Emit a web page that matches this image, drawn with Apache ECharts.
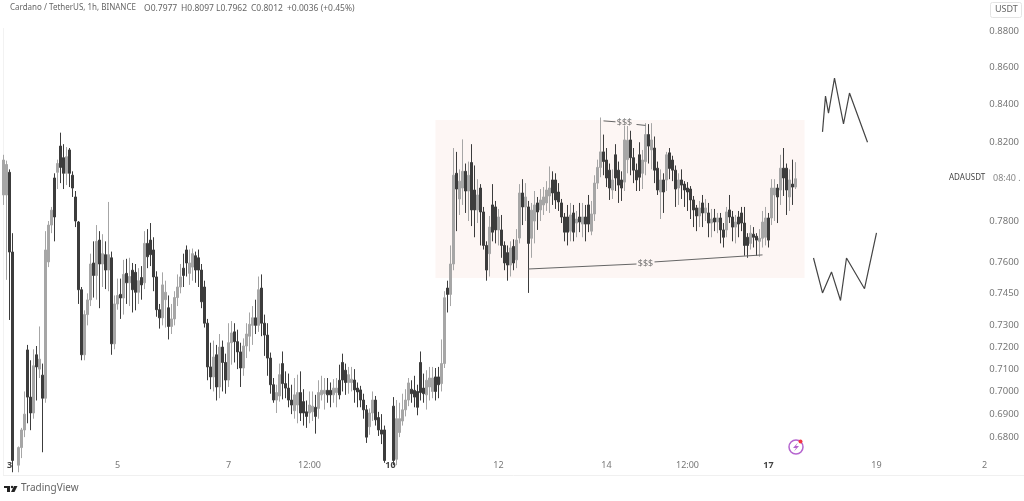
<!DOCTYPE html>
<html>
<head>
<meta charset="utf-8">
<title>ADAUSDT</title>
<style>
    html, body { margin: 0; padding: 0; background: #fff; }
    #chart { width: 1024px; height: 501px; }
</style>
<script src="https://cdn.jsdelivr.net/npm/echarts@6/dist/echarts.min.js"></script>
</head>
<body>
<div id="chart"></div>
<script>
// open, close, low, high per bar left to right
var candles = [
[.7930,.8108,.7880,.8135],[.7930,.8085,.7514,.8105],[.8045,.7648,.7325,.8060],[.7648,.6700,.6650,.7740],[.6700,.6680,.6640,.6710],
[.6680,.6755,.6650,.6760],[.6755,.6831,.6710,.6840],[.6831,.6900,.6800,.7000],[.7187,.6975,.6860,.7210],[.6975,.6905,.6830,.7140],
[.6905,.7115,.6880,.7190],[.7165,.7110,.6960,.7205],[.7100,.7145,.7060,.7295],[.7073,.6970,.6735,.7125],[.6970,.7658,.6950,.7750],
[.7600,.7780,.7575,.7800],[.7780,.7854,.7740,.7870],[.8016,.7820,.7700,.8040],[.8045,.8090,.7960,.8110],[.8180,.8070,.7990,.8250],
[.8120,.8040,.7960,.8190],[.8040,.8125,.7980,.8175],[.8160,.8040,.7970,.8170],[.8030,.7965,.7920,.8050],[.7920,.7800,.7770,.7950],
[.7795,.7467,.7400,.7800],[.7467,.7165,.7140,.7480],[.7165,.7350,.7140,.7370],[.7350,.7419,.7300,.7450],[.7419,.7590,.7390,.7640],
[.7595,.7535,.7430,.7700],[.7535,.7700,.7420,.7780],[.7706,.7590,.7380,.7750],[.7590,.7640,.7480,.7735],[.7635,.7561,.7470,.7700],
[.7561,.7635,.7460,.7895],[.7620,.7215,.7165,.7650],[.7215,.7400,.7190,.7440],[.7400,.7440,.7373,.7520],[.7445,.7428,.7330,.7520],
[.7428,.7540,.7350,.7610],[.7545,.7500,.7400,.7615],[.7500,.7530,.7390,.7620],[.7560,.7467,.7360,.7595],[.7550,.7455,.7370,.7590],
[.7455,.7510,.7400,.7570],[.7525,.7490,.7420,.7580],[.7500,.7690,.7470,.7750],[.7690,.7625,.7570,.7760],[.7706,.7635,.7580,.7790],
[.7658,.7528,.7460,.7720],[.7528,.7373,.7340,.7555],[.7373,.7335,.7285,.7400],[.7335,.7490,.7300,.7550],[.7420,.7455,.7290,.7510],
[.7382,.7295,.7235,.7440],[.7295,.7330,.7260,.7400],[.7330,.7430,.7300,.7460],[.7430,.7480,.7390,.7540],[.7480,.7528,.7450,.7590],
[.7570,.7535,.7480,.7640],[.7658,.7595,.7530,.7680],[.7545,.7595,.7490,.7660],[.7575,.7640,.7510,.7665],[.7630,.7561,.7500,.7650],
[.7620,.7561,.7480,.7660],[.7561,.7410,.7380,.7590],[.7480,.7310,.7290,.7510],[.7310,.7110,.7050,.7330],[.7110,.7065,.7010,.7220],
[.7065,.7155,.7000,.7230],[.7165,.7020,.6960,.7210],[.7020,.7200,.6970,.7260],[.7200,.7130,.7000,.7230],[.7130,.7051,.6990,.7170],
[.7051,.7220,.7020,.7310],[.7220,.7265,.7120,.7320],[.7270,.7225,.7130,.7310],[.7225,.7178,.7100,.7280],[.7178,.7105,.7020,.7220],
[.7105,.7205,.7070,.7240],[.7205,.7260,.7150,.7310],[.7250,.7305,.7180,.7360],[.7300,.7335,.7210,.7390],[.7335,.7300,.7260,.7420],
[.7300,.7467,.7270,.7530],[.7475,.7310,.7250,.7540],[.7310,.7255,.7160,.7350],[.7255,.7150,.7070,.7310],[.7150,.7030,.6990,.7175],
[.7030,.6962,.6950,.7060],[.6962,.6995,.6905,.7030],[.6980,.7075,.6955,.7125],[.7125,.7035,.6965,.7180],[.7035,.7015,.6970,.7090],
[.7015,.6962,.6930,.7080],[.6962,.6940,.6900,.7030],[.6915,.6985,.6880,.7060],[.6940,.6995,.6860,.7075],[.6995,.6905,.6870,.7090],
[.6955,.6905,.6850,.7010],[.6910,.6890,.6840,.6960],[.6905,.6940,.6860,.7000],[.6910,.6935,.6870,.7000],[.6930,.6890,.6815,.6985],
[.6925,.6995,.6880,.7050],[.6985,.7005,.6960,.7070],[.6990,.7005,.6920,.7060],[.7005,.6985,.6950,.7060],[.7005,.6985,.6930,.7040],
[.6985,.7015,.6950,.7055],[.6995,.7015,.6930,.7060],[.7050,.6985,.6965,.7120],[.7130,.7051,.7000,.7170],[.7095,.7040,.6985,.7125],
[.7040,.7075,.6990,.7110],[.7040,.7055,.7000,.7110],[.7051,.7007,.6950,.7100],[.7015,.6998,.6930,.7040],[.7007,.6962,.6930,.7025],
[.6962,.6919,.6880,.6990],[.6919,.6800,.6775,.6940],[.6845,.6905,.6810,.6925],[.6905,.6962,.6870,.7000],[.6962,.6875,.6850,.6980],
[.6885,.6831,.6805,.6910],[.6831,.6813,.6770,.6900],[.6831,.6700,.6690,.6850],[.6700,.6690,.6660,.6715],[.6700,.6695,.6680,.6715],
[.6935,.6700,.6680,.6975],[.6705,.6880,.6680,.6962],[.6820,.6880,.6800,.6950],[.6870,.6919,.6850,.6990],[.6919,.6962,.6890,.7010],
[.6962,.7038,.6935,.7060],[.7010,.6990,.6950,.7050],[.7005,.6975,.6930,.7070],[.7000,.6930,.6895,.7030],[.7130,.6995,.6960,.7180],
[.7015,.6990,.6950,.7080],[.6985,.7050,.6920,.7095],[.7020,.7060,.6960,.7110],[.7000,.7060,.6970,.7110],[.7065,.7000,.6960,.7105],
[.7065,.7030,.6970,.7110],[.7035,.7125,.7000,.7235],[.7125,.7429,.7105,.7460],[.7475,.7445,.7360,.7510],[.7445,.7590,.7390,.7680],
[.7590,.8030,.7560,.8170],[.8040,.7960,.7750,.8150],[.7910,.8000,.7830,.8060],[.7965,.8050,.7880,.8215],[.8050,.7950,.7840,.8090],
[.7950,.8030,.7800,.8100],[.8095,.7855,.7775,.8190],[.7955,.7855,.7720,.8080],[.7855,.7930,.7790,.8010],[.7965,.7845,.7680,.7985],
[.7845,.7680,.7660,.7870],[.7680,.7561,.7510,.7700],[.7640,.7770,.7530,.7825],[.7880,.7745,.7700,.7985],[.7870,.7756,.7690,.7900],
[.7756,.7820,.7680,.7860],[.7756,.7680,.7620,.7830],[.7680,.7595,.7560,.7700],[.7645,.7585,.7510,.7680],[.7585,.7668,.7530,.7700],
[.7675,.7595,.7560,.7710],[.7610,.7706,.7570,.7760],[.7716,.7940,.7690,.7985],[.7940,.7870,.7780,.8010],[.7870,.7920,.7800,.7990],
[.7870,.7690,.7452,.7900],[.7715,.7854,.7620,.7890],[.7800,.7880,.7690,.7950],[.7890,.7845,.7756,.7920],[.7855,.7905,.7800,.7960],
[.7880,.7920,.7830,.7970],[.7890,.7955,.7850,.8000],[.7925,.7965,.7840,.8075],[.8006,.7940,.7880,.8050],[.8006,.7905,.7860,.8040],
[.7945,.7895,.7850,.7990],[.7890,.7820,.7790,.7910],[.7820,.7745,.7700,.7840],[.7820,.7745,.7680,.7880],[.7750,.7830,.7700,.7890],
[.7840,.7745,.7700,.7880],[.7790,.7810,.7720,.7850],[.7820,.7795,.7745,.7890],[.7785,.7820,.7720,.7890],[.7820,.7785,.7700,.7880],
[.7880,.7785,.7745,.7930],[.7750,.7835,.7730,.7900],[.7835,.7990,.7800,.8030],[.7990,.8070,.7960,.8110],[.8070,.8150,.8020,.8330],
[.8150,.8100,.8030,.8240],[.8108,.8016,.7970,.8170],[.8056,.7965,.7905,.8090],[.7955,.8006,.7910,.8060],[.8135,.8016,.7950,.8190],
[.8056,.7980,.7890,.8100],[.8006,.7965,.7900,.8050],[.7995,.8212,.7950,.8285],[.8110,.8210,.8040,.8285],[.8212,.8120,.8030,.8260],
[.8120,.8056,.7990,.8170],[.8056,.8006,.7950,.8090],[.8135,.8020,.7950,.8200],[.8040,.8108,.7960,.8160],[.8100,.8240,.8030,.8300],
[.8240,.8180,.8090,.8295],[.8160,.8212,.8060,.8300],[.8170,.8056,.7990,.8230],[.8066,.7955,.7930,.8100],[.7945,.8006,.7810,.8060],
[.8006,.7945,.7840,.8040],[.8006,.8135,.7950,.8150],[.8145,.8065,.8010,.8170],[.8108,.8056,.8000,.8130],[.8056,.7960,.7870,.8080],
[.7965,.8006,.7880,.8040],[.8006,.7980,.7910,.8060],[.7985,.7955,.7870,.8000],[.7965,.7945,.7850,.7995],[.7960,.7905,.7810,.7975],
[.7905,.7855,.7770,.7925],[.7865,.7825,.7750,.7880],[.7825,.7865,.7770,.7900],[.7890,.7840,.7770,.7930],[.7840,.7865,.7800,.7910],
[.7840,.7790,.7720,.7890],[.7790,.7810,.7720,.7860],[.7815,.7795,.7750,.7860],[.7795,.7815,.7740,.7840],[.7815,.7756,.7690,.7840],
[.7756,.7720,.7670,.7790],[.7756,.7845,.7720,.7870],[.7855,.7820,.7790,.7930],[.7820,.7770,.7700,.7850],[.7770,.7795,.7690,.7830],
[.7820,.7785,.7720,.7850],[.7840,.7790,.7750,.7870],[.7790,.7680,.7630,.7870],[.7720,.7680,.7620,.7740],[.7690,.7740,.7660,.7780],
[.7735,.7720,.7670,.7770],[.7725,.7706,.7630,.7740],[.7700,.7715,.7625,.7760],[.7715,.7795,.7670,.7850],[.7720,.7815,.7680,.7870],
[.7815,.7706,.7670,.7840],[.7815,.7965,.7780,.8010],[.7930,.7965,.7800,.8010],[.7965,.7920,.7790,.7985],[.7955,.8066,.7880,.8135],
[.8066,.8016,.7925,.8170],[.8066,.7955,.7830,.8090],[.7920,.8006,.7850,.8060],[.7985,.7970,.7880,.8110],[.7970,.8012,.7960,.8097]
];

// price scale
var priceTicks = [0.88, 0.86, 0.84, 0.82, 0.78, 0.76, 0.745, 0.73, 0.72, 0.71, 0.70, 0.69, 0.68];

// time scale, bar index of each date label
var timeLabels = ['3', '5', '7', '12:00', '10', '12', '14', '12:00', '17', '19', '2'];
var timeLabelBars = [2, 38, 75, 102, 129, 165, 201, 228, 255, 291, 327];
var boldLabels = ['3', '10', '17'];
var barCount = 340;

// header texts
var symbolText = 'Cardano / TetherUS, 1h, BINANCE';
var ohlcTexts = ['O0.7977', 'H0.8097', 'L0.7962', 'C0.8012', '+0.0036 (+0.45%)'];

// shaded range
var rangeBars = [144, 267];
var rangePrices = [0.8317, 0.7523];

// $$$ liquidity lines
var topLiqBars = [200, 204, null, 211, 214];
var topLiqPrices = [0.8312, 0.8307, null, 0.8293, 0.8288];
var lowLiqBars = [175, 211, null, 217, 253];
var lowLiqPrices = [0.7566, 0.7590, null, 0.7600, 0.7634];
var liqLabelBars = [207, 214];
var liqLabelPrices = [0.8305, 0.7595];

// hand drawn zigzags on the right
var upperPathBars = [273, 274, 275, 277, 280, 282, 288];
var upperPathPrices = [0.8254, 0.8444, 0.8353, 0.8541, 0.8296, 0.8460, 0.8200];
var lowerPathBars = [270, 273, 276, 279, 281, 287, 291];
var lowerPathPrices = [0.7619, 0.7452, 0.7552, 0.7416, 0.7619, 0.7472, 0.7741];

function zip(xs, ys) {
    return xs.map(function (x, i) {
        return x === null ? [null, null] : [x, ys[i]];
    });
}

var categories = [];
for (var i = 0; i < barCount; i++) {
    categories.push(String(i));
}

var fontName = '"Noto Sans", sans-serif';
var myChart = echarts.init(document.getElementById('chart'), null, { renderer: 'canvas' });

// legend pieces sit at the x they have in the picture
var ohlcLeft = [144, 181, 216, 251, 287];
var headerGraphics = ohlcTexts.map(function (text, i) {
    return { type: 'text', x: ohlcLeft[i], y: 4, style: { text: text, fill: '#666666', font: '8.5px ' + fontName } };
});

var option = {
    animation: false,
    backgroundColor: '#ffffff',
    title: {
        text: symbolText,
        left: 5,
        top: -1,
        textStyle: { color: '#666666', fontSize: 8, fontWeight: 'normal', fontFamily: fontName }
    },
    grid: { left: 2, right: 2, top: 0, bottom: 45 },
    xAxis: {
        type: 'category',
        data: categories,
        axisLine: { show: false },
        axisTick: { show: false },
        splitLine: { show: false },
        axisLabel: {
            interval: function (index) {
                return timeLabelBars.indexOf(index) >= 0;
            },
            formatter: function (value, index) {
                var text = timeLabels[timeLabelBars.indexOf(index)];
                return boldLabels.indexOf(text) >= 0 ? '{b|' + text + '}' : text;
            },
            rich: { b: { fontWeight: 'bold', color: '#444444', fontSize: 9, fontFamily: fontName } },
            color: '#777777',
            fontSize: 9,
            margin: 5,
            fontFamily: fontName
        }
    },
    yAxis: {
        type: 'log',
        position: 'right',
        min: 0.6719,
        max: 0.8975,
        axisLine: { show: false },
        axisTick: { show: false },
        splitLine: { show: false },
        minorTick: { show: false },
        axisLabel: {
            inside: true,
            customValues: priceTicks,
            formatter: function (value) {
                return Number(value).toFixed(4);
            },
            color: '#777777',
            fontSize: 9.5,
            margin: 3,
            fontFamily: fontName
        }
    },
    series: [{
        type: 'candlestick',
        data: candles,
        barWidth: 2,
        clip: true,
        itemStyle: {
            color: '#a6a6a6',
            color0: '#3c3c3c',
            borderColor: '#a6a6a6',
            borderColor0: '#3c3c3c',
            borderWidth: 1
        },
        markArea: {
            silent: true,
            z: 0,
            itemStyle: { color: '#fdf6f4' },
            data: [[
                { xAxis: rangeBars[0], yAxis: rangePrices[0] },
                { xAxis: rangeBars[1], yAxis: rangePrices[1] }
            ]]
        }
    }, {
        type: 'line',
        data: zip(topLiqBars, topLiqPrices),
        symbol: 'none',
        connectNulls: false,
        lineStyle: { color: '#666666', width: 1 }
    }, {
        type: 'line',
        data: zip(lowLiqBars, lowLiqPrices),
        symbol: 'none',
        connectNulls: false,
        lineStyle: { color: '#666666', width: 1 }
    }, {
        type: 'scatter',
        data: zip(liqLabelBars, liqLabelPrices),
        symbolSize: 1,
        itemStyle: { color: 'transparent' },
        label: {
            show: true,
            position: 'inside',
            formatter: '$$$',
            color: '#555555',
            fontSize: 9,
            fontFamily: fontName
        }
    }, {
        type: 'line',
        data: zip(upperPathBars, upperPathPrices),
        symbol: 'none',
        lineStyle: { color: '#444444', width: 1.2 }
    }, {
        type: 'line',
        data: zip(lowerPathBars, lowerPathPrices),
        symbol: 'none',
        lineStyle: { color: '#444444', width: 1.2 }
    }],
    graphic: headerGraphics.concat([
        // frame lines
        { type: 'line', shape: { x1: 3.5, y1: 28, x2: 3.5, y2: 475 }, style: { stroke: '#f2f2f2', lineWidth: 1 } },
        { type: 'line', shape: { x1: 3, y1: 475.5, x2: 1024, y2: 475.5 }, style: { stroke: '#f0f0f0', lineWidth: 1 } },
        // currency box
        { type: 'rect', shape: { x: 990.5, y: 2.5, width: 31, height: 15, r: 2 }, style: { fill: '#ffffff', stroke: '#e4e4e4', lineWidth: 1 } },
        { type: 'text', x: 995, y: 5, style: { text: 'USDT', fill: '#666666', font: '9px ' + fontName } },
        // symbol tag and countdown
        { type: 'text', x: 949, y: 174, style: { text: 'ADAUSDT', fill: '#444444', font: '8px ' + fontName } },
        { type: 'text', x: 993, y: 174, style: { text: '08:40 .', fill: '#888888', font: '9px ' + fontName } },
        // TradingView mark
        { type: 'polygon', shape: { points: [[4, 486], [10, 486], [10, 492], [7, 492], [7, 488], [4, 488]] }, style: { fill: '#222222' } },
        { type: 'circle', shape: { cx: 12, cy: 487, r: 1.2 }, style: { fill: '#222222' } },
        { type: 'polygon', shape: { points: [[14, 486], [17.5, 486], [14.5, 492], [11, 492]] }, style: { fill: '#222222' } },
        { type: 'text', x: 21, y: 483, style: { text: 'TradingView', fill: '#666666', font: '10px ' + fontName } },
        // lightning badge
        { type: 'circle', shape: { cx: 796, cy: 447, r: 7 }, style: { fill: 'none', stroke: '#b565cf', lineWidth: 1.5 } },
        { type: 'polygon', shape: { points: [[798, 442.5], [793, 448], [796, 448], [794, 451.5], [799, 446], [796, 446]] }, style: { fill: '#b565cf' } },
        { type: 'circle', shape: { cx: 800.5, cy: 441.5, r: 2 }, style: { fill: '#f23645' } }
    ])
};

myChart.setOption(option);
</script>
</body>
</html>
